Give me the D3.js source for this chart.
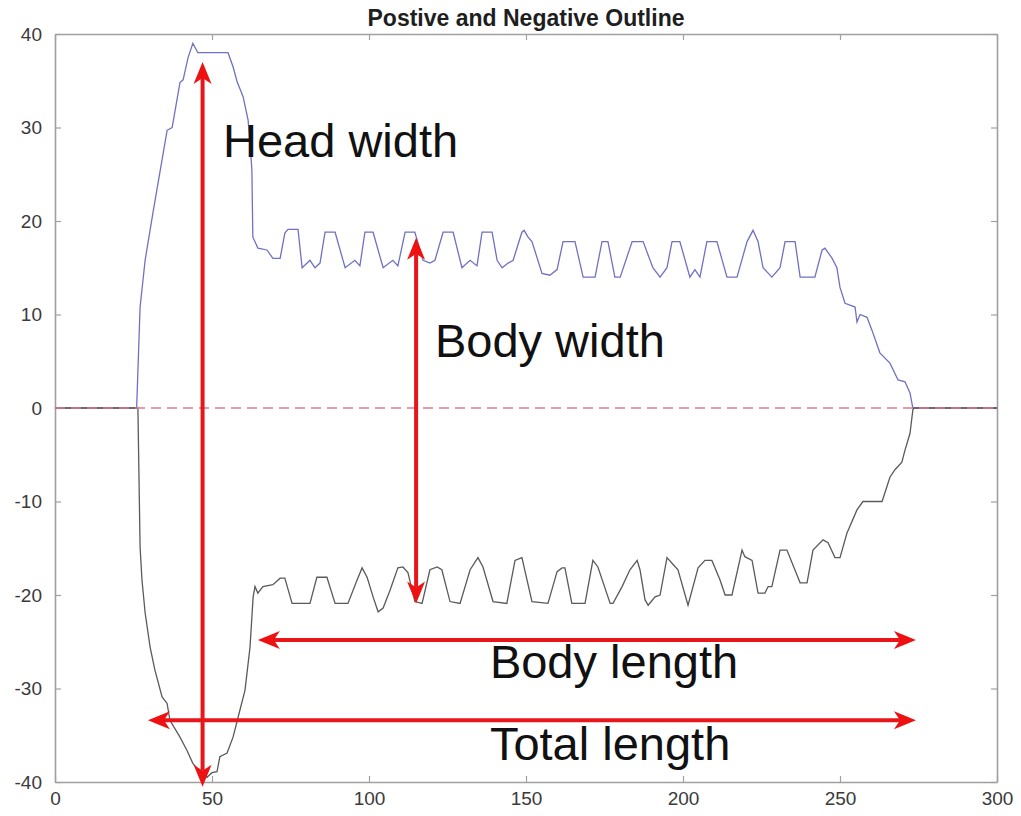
<!DOCTYPE html>
<html>
<head>
<meta charset="utf-8">
<script src="https://cdn.jsdelivr.net/npm/d3@7"></script>
<style>
  body { margin: 0; background: #fff; }
  svg { display: block; font-family: "Liberation Sans", Arial, sans-serif; }
</style>
</head>
<body>
<div id="chart"></div>
<script>
// upper (positive) outline, [x, y]
var upperOutline = [
  [0, 0], [26, 0], [27.1, 10.8], [28.7, 15.8], [31.2, 20.9], [35.7, 29.7], [37.3, 30],
  [39.8, 34.8], [40.8, 35.1], [42.4, 37.5], [43.9, 39], [45.5, 38], [55.1, 38],
  [56.7, 36.5], [58, 34.9], [59.9, 33.3], [61.5, 30.8], [62.7, 25.5], [63, 18.3],
  [64.6, 17.1], [67.5, 16.9], [69.4, 16], [71.7, 16], [73.2, 18.7], [74.2, 19.1],
  [77.4, 19.1], [78.7, 15], [81.2, 15.8], [82.8, 15], [84.4, 15.5], [86, 18.8],
  [89.2, 18.8], [92.4, 15], [95.5, 15.8], [97.1, 15.2], [98.7, 18.8], [101.3, 18.8],
  [104.5, 15], [107.6, 15.8], [109.2, 15.2], [111.5, 18.8], [114.6, 18.8], [117.2, 15.8],
  [119.4, 15.5], [121, 15.8], [123.6, 18.8], [126.8, 18.8], [129.6, 15], [132.2, 15.8],
  [134.4, 15.2], [136, 18.8], [139.2, 18.8], [140.8, 15.8], [142.4, 15], [144.3, 15.5],
  [145.9, 15.8], [148.7, 18.8], [149.4, 19], [150.6, 18.3], [151.9, 17.8], [155.1, 14.4],
  [157.6, 14.2], [159.9, 14.8], [161.8, 17.8], [165.6, 17.8], [168.2, 14], [172, 14],
  [174.2, 17.8], [176.1, 17.8], [178.3, 14], [180, 14], [183.8, 17.8], [187.3, 17.8],
  [190.4, 15], [192.7, 14], [194.9, 15], [196.5, 17.8], [199, 17.8], [202.2, 14],
  [203.8, 14.8], [205.4, 14], [207.6, 17.8], [210.8, 17.8], [214, 14], [217.2, 14],
  [220.4, 17.8], [222.3, 19], [223.9, 17.8], [225.5, 15], [228.3, 14], [230.9, 15],
  [232.5, 17.8], [235.7, 17.8], [237.3, 14], [242, 14], [244.3, 16.9], [245.2, 17.1],
  [247.5, 16], [249, 15], [250, 12.9], [251.6, 11.2], [254.8, 10.8], [255.4, 9.2],
  [256.4, 10], [258.6, 9.7], [260.2, 8.3], [262.7, 5.9], [265.9, 4.8], [268.5, 3],
  [270.7, 2.8], [272.3, 1.6], [273.2, 0], [300, 0]
];

// lower (negative) outline, [x, y]
var lowerOutline = [
  [0, 0], [26.4, 0], [27.1, -14.9], [27.7, -18.4], [28.7, -21.9], [30.3, -25.6], [31.8, -28],
  [34.1, -30.9], [35.7, -31.6], [36.6, -33.4], [39.8, -35.2], [42, -36.6], [43.9, -38],
  [46.2, -38.9], [48.4, -39.5], [50, -39], [51.6, -38.9], [52.5, -37.3], [54.8, -36.9],
  [56.7, -35.2], [58.9, -32.3], [60.5, -30.2], [62.1, -25.6], [63.1, -20.2], [63.7, -19.1],
  [64.6, -19.8], [66.2, -19.1], [69.4, -18.9], [71.7, -18.2], [73.2, -18.2], [75.5, -20.9],
  [81.2, -20.9], [83.4, -18.1], [86.6, -18.1], [89.2, -20.9], [93.3, -20.9], [96.2, -18.4],
  [97.8, -17.1], [99.4, -18.1], [101.3, -20.2], [102.9, -21.8], [104.5, -21.4], [106.7, -19.5],
  [109.2, -17.1], [110.8, -17], [112.4, -17.6], [114.6, -20.7], [116.9, -20.9], [119.4, -17.3],
  [121.7, -17], [123.2, -17.3], [125.8, -20.7], [129, -20.9], [132.2, -17.3], [134.7, -16],
  [136.3, -17], [139.5, -20.7], [143.9, -20.9], [146.5, -16.3], [148.7, -16], [151.9, -20.7],
  [157, -20.9], [159.9, -17.5], [161.5, -17.1], [162.4, -17.1], [164.6, -20.9], [168.8, -20.9],
  [171.3, -16.3], [172.9, -17], [176.8, -20.9], [177.7, -20.9], [180.6, -19.1], [183.1, -17.3],
  [185.4, -16.3], [186.3, -17.3], [187.9, -20.5], [188.9, -21.1], [191.1, -20.2], [192.7, -20],
  [194.9, -16], [196.5, -16.6], [198.4, -17.3], [201.6, -21.1], [204.8, -17.1], [207, -16.3],
  [209.2, -16.3], [211.8, -18.4], [213.4, -20], [215.6, -20], [218.8, -15.2], [219.7, -15.9],
  [222, -16.3], [223.9, -19.8], [226.1, -19.8], [227.1, -19.1], [228.3, -19.1], [230.9, -15.2],
  [233.1, -15.2], [237.3, -18.7], [239.5, -18.7], [241.4, -15.2], [244.6, -14.1], [246.2, -14.4],
  [248.4, -16], [250, -16], [252.2, -13.4], [255.4, -10.9], [257.3, -10], [263.4, -10],
  [265.9, -7.4], [267.5, -6.6], [269.7, -5.8], [270.7, -4.5], [272.3, -2.7], [273.2, -0.2],
  [273.5, 0], [300, 0]
];

var xTicks = [0, 50, 100, 150, 200, 250, 300];
var yTicks = [-40, -30, -20, -10, 0, 10, 20, 30, 40];

// annotation arrows: [x1, y1, x2, y2] in data units
var arrows = [
  [47, 37, 47, -40.5],
  [115, 18.2, 115, -20.9],
  [64.6, -24.8, 274.2, -24.8],
  [29.6, -33.4, 274.2, -33.4]
];
var labels = [
  {text: "Head width", x: 53.5, y: 26.8},
  {text: "Body width", x: 121, y: 5.5},
  {text: "Body length", x: 138.5, y: -28.9},
  {text: "Total length", x: 138.5, y: -37.6}
];
var title = "Postive and Negative Outline";

var width = 1021, height = 816;
var margin = {top: 34, right: 24, bottom: 34, left: 55};

var svg = d3.select("#chart").append("svg")
  .attr("width", width)
  .attr("height", height);

var x = d3.scaleLinear().domain([0, 300]).range([margin.left, width - margin.right]);
var y = d3.scaleLinear().domain([-40, 40]).range([height - margin.bottom, margin.top]);

var axisColor = "#a0a0a0";
var tickLen = 6;
var plain = function(d) { return String(d); };

// axes (box with inward ticks, matlab style)
var gx = svg.append("g")
  .attr("transform", "translate(0," + (height - margin.bottom) + ")")
  .call(d3.axisBottom(x).tickValues(xTicks).tickFormat(plain).tickSizeInner(-tickLen).tickSizeOuter(0).tickPadding(10));
var gy = svg.append("g")
  .attr("transform", "translate(" + margin.left + ",0)")
  .call(d3.axisLeft(y).tickValues(yTicks).tickFormat(plain).tickSizeInner(-tickLen).tickSizeOuter(0).tickPadding(13));
var gxTop = svg.append("g")
  .attr("transform", "translate(0," + margin.top + ")")
  .call(d3.axisTop(x).tickValues(xTicks).tickSizeInner(-tickLen).tickSizeOuter(0).tickFormat(""));
var gyRight = svg.append("g")
  .attr("transform", "translate(" + (width - margin.right) + ",0)")
  .call(d3.axisRight(y).tickValues(yTicks).tickSizeInner(-tickLen).tickSizeOuter(0).tickFormat(""));

[gx, gy, gxTop, gyRight].forEach(function(g) {
  g.selectAll(".domain").attr("stroke", axisColor).attr("stroke-width", 1.6);
  g.selectAll(".tick line").attr("stroke", axisColor).attr("stroke-width", 1.2);
  g.selectAll(".tick text")
    .attr("fill", "#3a3a3a")
    .style("font-size", "19px")
    .style("font-family", "'Liberation Sans', Arial, sans-serif");
});

svg.append("text")
  .attr("x", (x(0) + x(300)) / 2)
  .attr("y", 26)
  .attr("text-anchor", "middle")
  .attr("fill", "#1e1e1e")
  .style("font-size", "23px")
  .style("font-weight", "bold")
  .text(title);

var line = d3.line()
  .x(function(d) { return x(d[0]); })
  .y(function(d) { return y(d[1]); });

svg.append("path")
  .datum(upperOutline)
  .attr("d", line)
  .attr("fill", "none")
  .attr("stroke", "#7070c4")
  .attr("stroke-width", 1.3);

svg.append("path")
  .datum(lowerOutline)
  .attr("d", line)
  .attr("fill", "none")
  .attr("stroke", "#5a5a5a")
  .attr("stroke-width", 1.3);

// zero line
svg.append("line")
  .attr("x1", x(0)).attr("x2", x(300))
  .attr("y1", y(0)).attr("y2", y(0))
  .attr("stroke", "#e07a8a")
  .attr("stroke-width", 1.3)
  .attr("stroke-dasharray", "10,6");

// arrows
var headLen = 22, headHalf = 9, notch = 6;
function head(tipX, tipY, dx, dy) {
  // dx,dy unit vector pointing towards the tip
  var px = -dy, py = dx;
  var bx = tipX - dx * headLen, by = tipY - dy * headLen;
  var nx = tipX - dx * (headLen - notch), ny = tipY - dy * (headLen - notch);
  return "M" + tipX + "," + tipY +
    "L" + (bx + px * headHalf) + "," + (by + py * headHalf) +
    "L" + nx + "," + ny +
    "L" + (bx - px * headHalf) + "," + (by - py * headHalf) + "Z";
}

var ga = svg.append("g");
arrows.forEach(function(a) {
  var x1 = x(a[0]), y1 = y(a[1]), x2 = x(a[2]), y2 = y(a[3]);
  var len = Math.sqrt((x2 - x1) * (x2 - x1) + (y2 - y1) * (y2 - y1));
  var dx = (x2 - x1) / len, dy = (y2 - y1) / len;
  ga.append("line")
    .attr("x1", x1 + dx * (headLen - notch)).attr("y1", y1 + dy * (headLen - notch))
    .attr("x2", x2 - dx * (headLen - notch)).attr("y2", y2 - dy * (headLen - notch))
    .attr("stroke", "#e8161a")
    .attr("stroke-width", 4);
  ga.append("path").attr("d", head(x2, y2, dx, dy)).attr("fill", "#ee1111");
  ga.append("path").attr("d", head(x1, y1, -dx, -dy)).attr("fill", "#ee1111");
});

svg.append("g").selectAll("text")
  .data(labels)
  .enter()
  .append("text")
  .attr("x", function(d) { return x(d.x); })
  .attr("y", function(d) { return y(d.y); })
  .attr("fill", "#111")
  .style("font-size", "47px")
  .text(function(d) { return d.text; });
</script>
</body>
</html>
